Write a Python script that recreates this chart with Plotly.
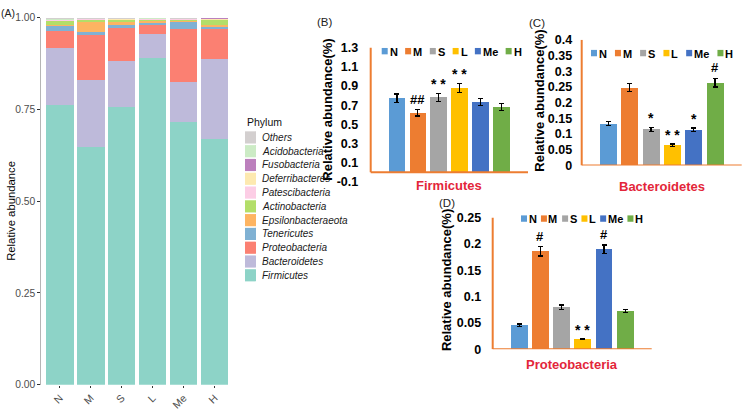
import plotly.graph_objects as go

W, H = 745, 413
FONT = "Liberation Sans, Arial, sans-serif"

# ---------------- data ----------------
groups = ["N", "M", "S", "L", "Me", "H"]
group_colors = ["#5B9BD5", "#ED7D31", "#A5A5A5", "#FFC000", "#4472C4", "#70AD47"]

phyla = ["Firmicutes", "Bacteroidetes", "Proteobacteria", "Tenericutes",
         "Epsilonbacteraeota", "Actinobacteria", "Patescibacteria",
         "Deferribacteres", "Fusobacteria", "Acidobacteria", "Others"]
phyla_colors = ["#8DD3C7", "#BEBADA", "#FB8072", "#80B1D3", "#FDB462",
                "#B3DE69", "#FCCDE5", "#FDE9B0", "#BC80BD", "#CCEBC5", "#D3CFCF"]

firmicutes_ab = [0.761, 0.647, 0.757, 0.890, 0.715, 0.669]
bacteroidetes_ab = [0.157, 0.182, 0.125, 0.066, 0.111, 0.218]
proteobacteria_ab = [0.045, 0.127, 0.090, 0.023, 0.142, 0.085]
tenericutes_ab = [0.016, 0.004, 0.009, 0.010, 0.020, 0.004]
epsilon_ab = [0.002, 0.029, 0.006, 0.005, 0.006, 0.004]
actino_ab = [0.013, 0.008, 0.009, 0.003, 0.002, 0.016]
patesci_ab = [0.001, 0.001, 0.001, 0.001, 0.002, 0.001]
deferri_ab = [0.002, 0.001, 0.001, 0.001, 0.001, 0.001]
fuso_ab = [0.000, 0.000, 0.000, 0.000, 0.000, 0.002]
acido_ab = [0.001, 0.0005, 0.001, 0.001, 0.0005, 0.000]
others_ab = [0.002, 0.0005, 0.001, 0.000, 0.0005, 0.000]
phyla_values = [firmicutes_ab, bacteroidetes_ab, proteobacteria_ab, tenericutes_ab,
                epsilon_ab, actino_ab, patesci_ab, deferri_ab, fuso_ab, acido_ab, others_ab]
a_ticks = [0, 0.25, 0.5, 0.75, 1.0]

firm_mean = [0.77, 0.62, 0.78, 0.88, 0.73, 0.68]
firm_err = [0.045, 0.033, 0.045, 0.048, 0.037, 0.034]
firm_sig = ["", "##", "* *", "* *", "", ""]
firm_ticks = [-0.1, 0.1, 0.3, 0.5, 0.7, 0.9, 1.1, 1.3]

bact_mean = [0.133, 0.248, 0.115, 0.064, 0.113, 0.264]
bact_err = [0.006, 0.012, 0.007, 0.004, 0.006, 0.014]
bact_sig = ["", "", "*", "* *", "*", "#"]
bact_ticks = [0, 0.05, 0.1, 0.15, 0.2, 0.25, 0.3, 0.35, 0.4]

prot_mean = [0.046, 0.186, 0.080, 0.019, 0.190, 0.073]
prot_err = [0.002, 0.009, 0.004, 0.001, 0.008, 0.003]
prot_sig = ["", "#", "", "* *", "#", ""]
prot_ticks = [0, 0.05, 0.1, 0.15, 0.2, 0.25]


def fx(x):
    return x / W


def fy(y):
    return 1 - y / H


fig = go.Figure()

# ---------------- panel A : stacked bars ----------------
for name, col, vals in zip(phyla, phyla_colors, phyla_values):
    fig.add_trace(go.Bar(x=groups, y=vals, name=name, marker=dict(color=col, line=dict(width=0)),
                         width=0.885, xaxis="x", yaxis="y", showlegend=False))

# ---------------- panels B, C, D ----------------
panels = [
    ("2", firm_mean, firm_err, firm_sig),
    ("3", bact_mean, bact_err, bact_sig),
    ("4", prot_mean, prot_err, prot_sig),
]
annotations = []
for ax, mean, err, sig in panels:
    for g, c, m, e, s in zip(groups, group_colors, mean, err, sig):
        fig.add_trace(go.Bar(x=[g], y=[m], name=g, marker=dict(color=c, line=dict(width=0)),
                             width=0.8, xaxis="x" + ax, yaxis="y" + ax, showlegend=False,
                             error_y=dict(type="data", array=[e], color="black", thickness=1.2, width=2.5)))
        if s:
            annotations.append(dict(x=g, y=m + e, xref="x" + ax, yref="y" + ax, text=s,
                                    showarrow=False, yanchor="bottom", yshift=1 if "#" in s else -1,
                                    font=dict(family=FONT, size=14 if "*" in s else 13, color="black", weight="bold")))

orange = "#ED7D31"
red = "#E3263A"

layout_axes = dict(
    xaxis=dict(domain=[fx(41.3), fx(233.2)], range=[-0.6, 5.6], type="category", anchor="y",
               categoryorder="array", categoryarray=groups, showline=False, showgrid=False,
               ticks="outside", ticklen=2, tickcolor="#333333", tickangle=-45,
               tickfont=dict(family=FONT, size=10.5, color="#4D4D4D"), zeroline=False),
    yaxis=dict(domain=[fy(391), fy(11)], range=[0, 1], showline=True, linecolor="#B5B5B5", linewidth=1,
               anchor="x", ticks="outside", ticklen=3, tickcolor="#333333", tickvals=a_ticks,
               ticktext=[f"{v:.2f}" for v in a_ticks], showgrid=False, zeroline=False,
               tickfont=dict(family=FONT, size=10.3, color="#4D4D4D")),
)

panel_geo = {
    "2": dict(x=(370.7, 528.0), y=(181, 42), rng=[-0.1, 1.3], ticks=firm_ticks,
              fmt=lambda v: f"{v:.1f}", standoff=9, top=1.3),
    "3": dict(x=(581.7, 741.7), y=(164, 34), rng=[0, 0.4], ticks=bact_ticks,
              fmt=lambda v: f"{v:g}", standoff=6, top=0.4),
    "4": dict(x=(492.7, 651.7), y=(354.3, 218), rng=[0, 0.25], ticks=prot_ticks,
              fmt=lambda v: f"{v:g}", standoff=8, top=0.25),
}
shapes = []
for n, g in panel_geo.items():
    layout_axes["xaxis" + n] = dict(domain=[fx(g["x"][0]), fx(g["x"][1])], range=[-1.25, 6.25],
                                    anchor="y" + n,
                                    type="category", categoryorder="array", categoryarray=groups,
                                    showticklabels=False, showline=False, showgrid=False,
                                    zeroline=False, ticks="")
    layout_axes["yaxis" + n] = dict(domain=[fy(g["y"][0]), fy(g["y"][1])], range=g["rng"],
                                    anchor="x" + n,
                                    tickvals=g["ticks"], ticktext=[g["fmt"](v) for v in g["ticks"]],
                                    showline=False, showgrid=False, zeroline=False,
                                    ticks="outside", ticklen=g["standoff"], tickcolor="rgba(0,0,0,0)",
                                    tickfont=dict(family=FONT, size=12.5, color="black", weight="bold"))
    # axis lines
    shapes.append(dict(type="line", xref="x" + n + " domain", yref="y" + n, x0=0, x1=1, y0=0, y1=0,
                       line=dict(color=orange, width=2)))
    shapes.append(dict(type="line", xref="x" + n + " domain", yref="y" + n, x0=0, x1=0, y0=0, y1=g["top"],
                       line=dict(color=orange, width=2)))


def txt(x, y, text, size, color="black", bold=False, italic=False, xanchor="center", angle=0):
    annotations.append(dict(x=fx(x), y=fy(y), xref="paper", yref="paper", text=text, showarrow=False,
                            xanchor=xanchor, yanchor="middle", textangle=angle,
                            font=dict(family=FONT, size=size, color=color,
                                      weight="bold" if bold else "normal",
                                      style="italic" if italic else "normal")))


# panel labels
txt(8, 6.5, "(A)", 10.5, color="#222222")
txt(325, 16, "(B)", 11.5, color="#222222")
txt(537, 16.5, "(C)", 11.5, color="#222222")
txt(446.5, 203, "(D)", 11.5, color="#222222")

# axis titles
txt(11, 211, "Relative abundance", 11.3, color="black", angle=-90)
txt(327.3, 106, "Relative abundance(%)", 13, bold=True, angle=-90)
txt(540, 97, "Relative abundance(%)", 13, bold=True, angle=-90)
txt(446.7, 283, "Relative abundance(%)", 13, bold=True, angle=-90)
txt(449.3, 185, "Firmicutes", 13, color=red, bold=True)
txt(661.7, 186, "Bacteroidetes", 13, color=red, bold=True)
txt(572.2, 370, "Proteobacteria", 13, color=red, bold=True)

# panel A legend
txt(245, 119, "Phylum", 10.5, color="#111111", xanchor="left")
for i, (name, col) in enumerate(zip(phyla[::-1], phyla_colors[::-1])):
    yc = 135 + i * 14.27
    shapes.append(dict(type="rect", xref="paper", yref="paper", x0=fx(245), x1=fx(256),
                       y0=fy(yc + 6.3), y1=fy(yc - 6.3), fillcolor=col, line=dict(width=0)))
    txt(260, yc, name, 10, color="#1A1A1A", italic=True, xanchor="left")

# panel B-D legends
char_w = {"N": 0.722, "M": 0.833, "S": 0.667, "L": 0.611, "Me": 1.389, "H": 0.722}


def group_legend(x0, yc, size, gap, space):
    x = x0
    for g, c in zip(groups, group_colors):
        shapes.append(dict(type="rect", xref="paper", yref="paper", x0=fx(x), x1=fx(x + 6),
                           y0=fy(yc + 3.3), y1=fy(yc - 3.3), fillcolor=c, line=dict(width=0)))
        txt(x + 6 + gap, yc + 0.5, g, size, bold=True, xanchor="left")
        x += 6 + gap + char_w[g] * size + space


group_legend(381.7, 45.7, 11, 0, 9.5)
group_legend(591, 47.7, 11, 0, 10)
group_legend(521, 219, 11, -0.5, 6.5)

fig.update_layout(
    width=W, height=H, margin=dict(l=0, r=0, t=0, b=0),
    paper_bgcolor="white", plot_bgcolor="rgba(0,0,0,0)",
    barmode="stack", showlegend=False,
    annotations=annotations, shapes=shapes,
    font=dict(family=FONT),
    **layout_axes,
)

fig.write_html("out.html", config={"displayModeBar": False},
               post_script="document.body.style.margin='0';")
